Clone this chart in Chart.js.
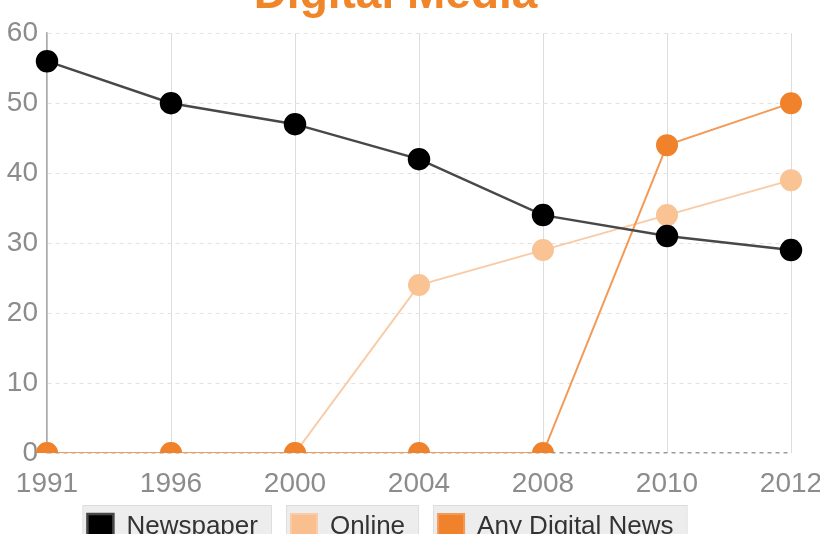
<!DOCTYPE html>
<html>
<head>
<meta charset="utf-8">
<script src="https://cdn.jsdelivr.net/npm/chart.js@4"></script>
<style>
  html, body { margin: 0; padding: 0; background: #fff; overflow: hidden; width: 820px; height: 534px; }
  #wrap { position: absolute; left: 0; top: -40px; }
</style>
</head>
<body>
<div id="wrap"><canvas id="graf" width="820" height="587"></canvas></div>
<script>
// Godine i udjeli (%)
const godine = ['1991', '1996', '2000', '2004', '2008', '2010', '2012'];
const novine = [56, 50, 47, 42, 34, 31, 29];
const online = [0, 0, 0, 24, 29, 34, 39];
const digitalno = [0, 0, 0, 0, 0, 44, 50];

// Legenda malo ulijevo/niže i sive pozadine ispod stavki
const legendaPozadina = {
    id: 'legendaPozadina',
    afterLayout(chart) {
        const leg = chart.legend;
        if (leg) {
            leg.left -= 15;
            leg.right -= 15;
            leg.top += 3;
            leg.bottom += 3;
        }
    },
    beforeDraw(chart) {
        const leg = chart.legend;
        if (!leg || !leg.legendHitBoxes) return;
        const ctx = chart.ctx;
        ctx.save();
        leg.legendHitBoxes.forEach(b => {
            ctx.fillStyle = '#ededed';
            ctx.strokeStyle = '#dcdcdc';
            ctx.lineWidth = 1;
            ctx.fillRect(b.left - 4, b.top - 8, b.width + 17, b.height + 20);
            ctx.strokeRect(b.left - 4.5, b.top - 8.5, b.width + 18, b.height + 21);
        });
        ctx.restore();
    }
};

const ctx = document.getElementById('graf').getContext('2d');
new Chart(ctx, {
    type: 'line',
    data: {
        labels: godine,
        datasets: [{
            label: 'Newspaper',
            data: novine,
            borderColor: '#484848',
            backgroundColor: '#000000',
            pointBackgroundColor: '#000000',
            pointBorderColor: '#000000',
            borderWidth: 2.5,
            pointRadius: 10,
            order: 0
        }, {
            label: 'Online',
            data: online,
            borderColor: '#f9cba6',
            backgroundColor: '#f9bf8e',
            pointBackgroundColor: '#f9c394',
            pointBorderColor: '#f9c394',
            borderWidth: 2,
            pointRadius: 10,
            order: 2
        }, {
            label: 'Any Digital News',
            data: digitalno,
            borderColor: '#f29a58',
            backgroundColor: '#f0822c',
            pointBackgroundColor: '#f0822c',
            pointBorderColor: '#f0822c',
            borderWidth: 2,
            pointRadius: 10,
            order: 1
        }]
    },
    options: {
        responsive: false,
        animation: false,
        layout: { padding: { left: 0, right: 29, top: 0, bottom: 0 } },
        plugins: {
            title: {
                display: true,
                text: 'Digital Media',
                color: '#f08529',
                font: { family: 'Liberation Sans, Arial, sans-serif', size: 46, weight: 'bold', lineHeight: 1.2 },
                padding: { top: 8, bottom: 10 }
            },
            legend: {
                position: 'bottom',
                labels: {
                    boxWidth: 26,
                    boxHeight: 26,
                    padding: 33,
                    color: '#333333',
                    font: { family: 'Liberation Sans, Arial, sans-serif', size: 26 },
                    sort: (a, b) => a.datasetIndex - b.datasetIndex
                }
            },
            tooltip: { enabled: false }
        },
        scales: {
            x: {
                offset: false,
                grid: { color: '#dddddd', lineWidth: 1, drawTicks: false },
                border: { display: false },
                ticks: {
                    color: '#8c8c8c',
                    padding: 14,
                    maxRotation: 0,
                    font: { family: 'Liberation Sans, Arial, sans-serif', size: 28 }
                },
                afterFit(scale) {
                    scale.height = 25;
                    scale.paddingLeft = 0;
                    scale.paddingRight = 0;
                    // oznake godina smiju izaći ispod osi
                    scale._computeLabelArea = () => undefined;
                }
            },
            y: {
                min: 0,
                max: 60,
                grid: {
                    color: c => c.tick && c.tick.value === 0 ? '#9a9a9a' : '#e2e2e2',
                    lineWidth: c => c.tick && c.tick.value === 0 ? 1.5 : 1,
                    drawTicks: false
                },
                border: { display: true, color: '#aaaaaa', dash: [4, 4], width: 1.5 },
                ticks: {
                    stepSize: 10,
                    color: '#8c8c8c',
                    padding: 9,
                    font: { family: 'Liberation Sans, Arial, sans-serif', size: 28 }
                },
                afterFit(scale) {
                    scale.width = 47;
                    scale.paddingTop = 0;
                    scale.paddingBottom = 0;
                }
            }
        }
    },
    plugins: [legendaPozadina]
});
</script>
</body>
</html>
